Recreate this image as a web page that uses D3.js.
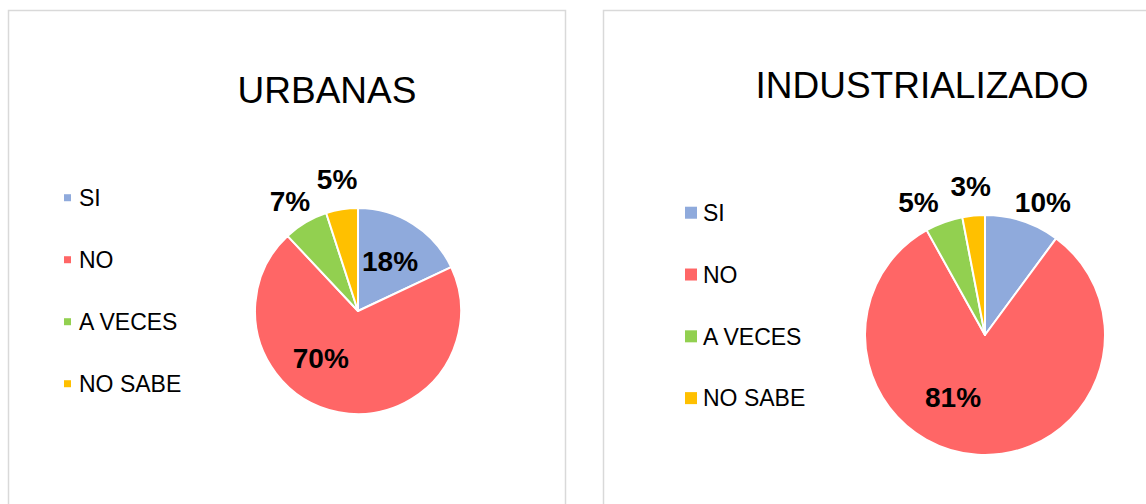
<!DOCTYPE html>
<html>
<head>
<meta charset="utf-8">
<script src="https://cdn.jsdelivr.net/npm/d3@7"></script>
<style>
  html, body { margin: 0; padding: 0; background: #fff; }
  svg { display: block; font-family: "Liberation Sans", Arial, sans-serif; }
</style>
</head>
<body>
<script>
// data
var categories = ["SI", "NO", "A VECES", "NO SABE"];
var colors = ["#8faadc", "#ff6666", "#92d050", "#ffc000"];
var urbanasValues = [18, 70, 7, 5];
var industrialValues = [10, 81, 5, 3];

var width = 1146, height = 504;

var svg = d3.select("body").append("svg")
    .attr("width", width)
    .attr("height", height);

var color = d3.scaleOrdinal().domain(categories).range(colors);

// layout of each panel (positions only, values come from the arrays above)
var panels = [
  {title: "URBANAS", values: urbanasValues,
   box: [8, 10, 557, 520],
   titleX: 327, titleY: 103, titleSize: 37,
   cx: 358, cy: 311, r: 103,
   legendY: 206, legendStep: 62, swatch: 7, legendSize: 23, swatchX: 64, textX: 79,
   labelSize: 28,
   labelR: [0.58, 0.58, 1.26, 1.3],
   labelShift: [0, 27.7, -1, 0]},
  {title: "INDUSTRIALIZADO", values: industrialValues,
   box: [603, 10, 600, 520],
   titleX: 922, titleY: 98, titleSize: 37,
   cx: 985, cy: 335, r: 120,
   legendY: 221, legendStep: 61.8, swatch: 12, legendSize: 23, swatchX: 685, textX: 703,
   labelSize: 28,
   labelR: [1.21, 0.58, 1.24, 1.25],
   labelShift: [5.3, 23.7, -6.6, 0]}
];

var pie = d3.pie().sort(null).value(function(d) { return d.value; });

panels.forEach(function(p) {
  var g = svg.append("g");

  g.append("rect")
      .attr("x", p.box[0] + 0.5)
      .attr("y", p.box[1] + 0.5)
      .attr("width", p.box[2])
      .attr("height", p.box[3])
      .attr("fill", "#fff")
      .attr("stroke", "#d9d9d9")
      .attr("stroke-width", 1.5);

  g.append("text")
      .attr("x", p.titleX)
      .attr("y", p.titleY)
      .attr("text-anchor", "middle")
      .style("font-size", p.titleSize + "px")
      .attr("fill", "#000")
      .text(p.title);

  var data = categories.map(function(c, i) { return {name: c, value: p.values[i]}; });
  var arcs = pie(data);

  var arc = d3.arc().innerRadius(0).outerRadius(p.r);

  var pg = g.append("g")
      .attr("transform", "translate(" + p.cx + "," + p.cy + ")");

  pg.selectAll("path.slice")
      .data(arcs)
    .enter().append("path")
      .attr("class", "slice")
      .attr("d", arc)
      .attr("fill", function(d) { return color(d.data.name); })
      .attr("stroke", "#fff")
      .attr("stroke-width", 2)
      .attr("stroke-linejoin", "round");

  // label angle/radius tweaks mimic the spreadsheet's best-fit placement
  pg.selectAll("text.lbl")
      .data(arcs)
    .enter().append("text")
      .attr("class", "lbl")
      .attr("transform", function(d, i) {
        var a = (d.startAngle + d.endAngle) / 2 + p.labelShift[i] * Math.PI / 180;
        var rr = p.r * p.labelR[i];
        return "translate(" + (Math.sin(a) * rr) + "," + (-Math.cos(a) * rr) + ")";
      })
      .attr("dy", "0.36em")
      .attr("text-anchor", "middle")
      .style("font-size", p.labelSize + "px")
      .style("font-weight", "bold")
      .attr("fill", "#000")
      .text(function(d) { return d.data.value + "%"; });

  var legend = g.selectAll("g.legend")
      .data(categories)
    .enter().append("g")
      .attr("class", "legend")
      .attr("transform", function(d, i) { return "translate(0," + (p.legendY + i * p.legendStep) + ")"; });

  legend.append("rect")
      .attr("x", p.swatchX)
      .attr("y", -p.legendSize * 0.36 - p.swatch / 2)
      .attr("width", p.swatch)
      .attr("height", p.swatch)
      .attr("fill", function(d) { return color(d); });

  legend.append("text")
      .attr("x", p.textX)
      .attr("y", 0)
      .style("font-size", p.legendSize + "px")
      .attr("fill", "#000")
      .text(function(d) { return d; });
});
</script>
</body>
</html>
